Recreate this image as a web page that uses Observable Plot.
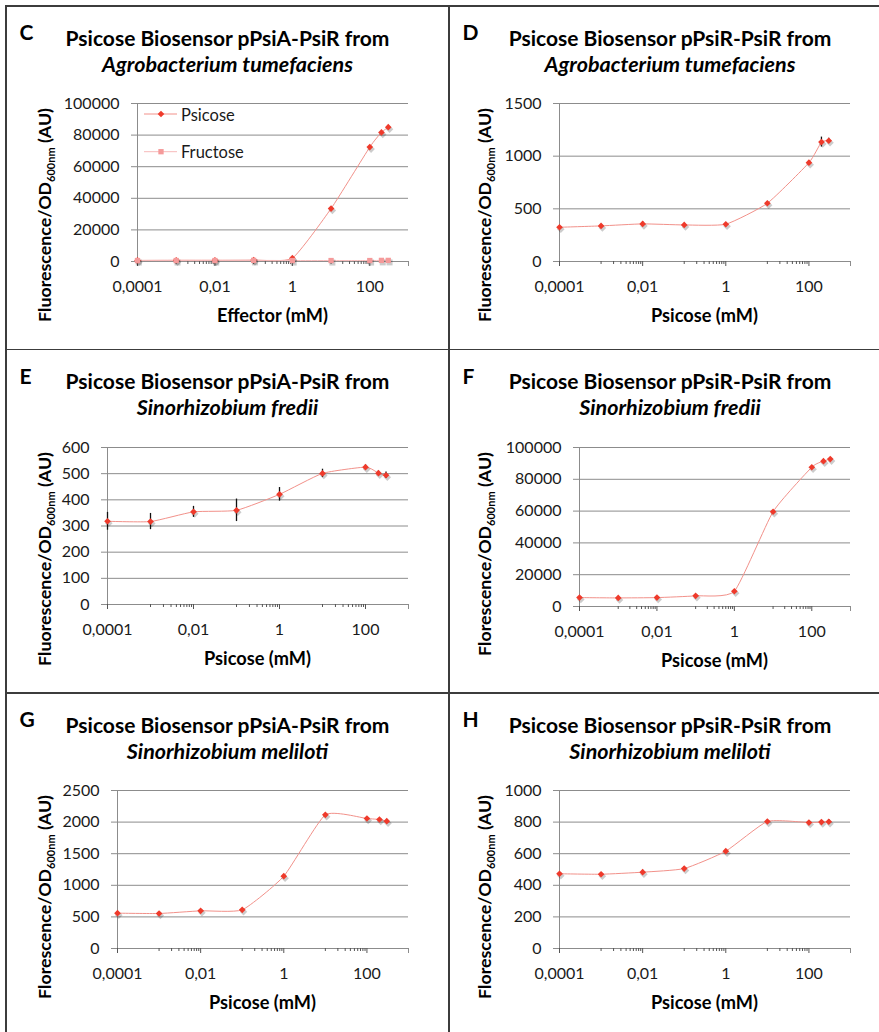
<!DOCTYPE html>
<html>
<head>
<meta charset="utf-8">
<script src="https://cdn.jsdelivr.net/npm/d3@7"></script>
<script src="https://cdn.jsdelivr.net/npm/@observablehq/plot@0.6"></script>
<style>
  html, body { margin: 0; padding: 0; background: #fff; }
  #page { position: relative; width: 879px; height: 1032px; overflow: hidden; background: #fff; font-family: Lato, "Open Sans", sans-serif; }
  .line { position: absolute; background: #3c3c3c; }
  .chart { position: absolute; }
  #overlay { position: absolute; left: 0; top: 0; pointer-events: none; }
</style>
</head>
<body>
<div id="page"></div>
<script>
// ---------------- DATA ----------------
const concentrations = [0.0001, 0.001, 0.01, 0.1, 1, 10, 100, 200, 300];
const xTickValues = [0.0001, 0.01, 1, 100];
const xTickLabels = ["0,0001", "0,01", "1", "100"];

// Panel C: pPsiA-PsiR, Agrobacterium tumefaciens
const psicoseC = [700, 800, 800, 900, 2100, 33500, 72400, 81700, 85000];
const fructoseC = [600, 600, 600, 700, 600, 600, 600, 700, 700];
const yTicksC = [0, 20000, 40000, 60000, 80000, 100000];

// Panel D: pPsiR-PsiR, Agrobacterium tumefaciens
const psicoseD = [325, 338, 357, 347, 354, 553, 938, 1134, 1146];
const errD = [10, 14, 20, 12, 14, 14, 16, 47, 25];
const yTicksD = [0, 500, 1000, 1500];

// Panel E: pPsiA-PsiR, Sinorhizobium fredii
const psicoseE = [318, 317, 354, 360, 421, 501, 525, 502, 494];
const errE = [34, 31, 21, 43, 26, 16, 8, 8, 12];
const yTicksE = [0, 100, 200, 300, 400, 500, 600];

// Panel F: pPsiR-PsiR, Sinorhizobium fredii
const psicoseF = [5600, 5400, 5600, 6700, 9600, 59600, 87600, 91400, 92700];
const yTicksF = [0, 20000, 40000, 60000, 80000, 100000];

// Panel G: pPsiA-PsiR, Sinorhizobium meliloti
const psicoseG = [559, 554, 596, 612, 1144, 2115, 2057, 2041, 2015];
const yTicksG = [0, 500, 1000, 1500, 2000, 2500];

// Panel H: pPsiR-PsiR, Sinorhizobium meliloti
const psicoseH = [473, 470, 483, 506, 616, 804, 797, 800, 802];
const errH = [8, 10, 12, 12, 10, 8, 8, 10, 14];
const yTicksH = [0, 200, 400, 600, 800, 1000];

const titleA = "Psicose Biosensor pPsiA-PsiR from";
const titleR = "Psicose Biosensor pPsiR-PsiR from";
const speciesAt = "Agrobacterium tumefaciens";
const speciesSf = "Sinorhizobium fredii";
const speciesSm = "Sinorhizobium meliloti";
const legendNames = ["Psicose", "Fructose"];

// ---------------- LAYOUT ----------------
const rowTops = [6, 349.5, 693];
const colLefts = [6, 449];
const titleCenters = [227.5, 670];
const yLabelBaselines = [51, 491];

const COL_PSI = "#ef3a2b", COL_PSI_LINE = "#f2918a";
const COL_FRU = "#f59a9a", COL_FRU_LINE = "#f7b9b9";

const rows = (vals, errs) => concentrations.map((x, i) => ({x, y: vals[i], e: errs ? errs[i] : 0}));

const panels = [
  {letter: "C", t1: titleA, t2: speciesAt, yWord: "Fluorescence", xlab: "Effector (mM)", yTicks: yTicksC, row: 0, col: 0,
   box: {L: 137, R: 408, T: 103, B: 261},
   series: [{data: rows(psicoseC), kind: "psi"}, {data: rows(fructoseC), kind: "fru"}], legend: true},
  {letter: "D", t1: titleR, t2: speciesAt, yWord: "Fluorescence", xlab: "Psicose (mM)", yTicks: yTicksD, row: 0, col: 1,
   box: {L: 559, R: 850, T: 103, B: 261},
   series: [{data: rows(psicoseD, errD), kind: "psi", err: true}]},
  {letter: "E", t1: titleA, t2: speciesSf, yWord: "Fluorescence", xlab: "Psicose (mM)", yTicks: yTicksE, row: 1, col: 0,
   box: {L: 107, R: 408, T: 447, B: 604},
   series: [{data: rows(psicoseE, errE), kind: "psi", err: true}]},
  {letter: "F", t1: titleR, t2: speciesSf, yWord: "Florescence", xlab: "Psicose (mM)", yTicks: yTicksF, row: 1, col: 1,
   box: {L: 579, R: 850, T: 447, B: 606},
   series: [{data: rows(psicoseF), kind: "psi"}]},
  {letter: "G", t1: titleA, t2: speciesSm, yWord: "Florescence", xlab: "Psicose (mM)", yTicks: yTicksG, row: 2, col: 0,
   box: {L: 117, R: 408, T: 790, B: 948},
   series: [{data: rows(psicoseG), kind: "psi"}]},
  {letter: "H", t1: titleR, t2: speciesSm, yWord: "Florescence", xlab: "Psicose (mM)", yTicks: yTicksH, row: 2, col: 1,
   box: {L: 559, R: 850, T: 790, B: 948},
   series: [{data: rows(psicoseH, errH), kind: "psi", err: true}]}
];

// minor log ticks (Excel style, base-100 axis: 10..90 x each major)
const minorTicks = [];
for (const M of xTickValues) for (let m = 1; m <= 9; m++) { const v = M * 10 * m; if (v < 1000) minorTicks.push(v); }

const page = document.getElementById("page");
const ML = 100, MR = 15, MT = 15, MB = 45;

for (const p of panels) {
  const {L, R, T, B} = p.box;
  const w = (R - L) + ML + MR, h = (B - T) + MT + MB;
  const marks = [
    Plot.gridY(p.yTicks, {stroke: "#8c8c8c", strokeOpacity: 1, strokeWidth: 1}),
    Plot.ruleX([0.0001], {stroke: "#8c8c8c", strokeWidth: 1}),
    Plot.axisY(p.yTicks, {tickSize: 6, tickPadding: 12, fontSize: 16, stroke: "#8c8c8c", fill: "#1a1a1a", tickFormat: d => String(d), label: null}),
    Plot.axisX(xTickValues, {tickSize: 5, tickPadding: 14.5, fontSize: 16, stroke: "#555", fill: "#1a1a1a", tickFormat: d => xTickLabels[xTickValues.indexOf(d)], label: null}),
    Plot.ruleX(minorTicks, {x: d => d, y1: 0, y2: 0, insetBottom: -3, stroke: "#555", strokeWidth: 1}),
    Plot.ruleX([1000], {x: d => d, y1: 0, y2: 0, insetBottom: -5, stroke: "#8c8c8c", strokeWidth: 1})
  ];
  for (const s of p.series) {
    const psi = s.kind === "psi";
    marks.push(Plot.line(s.data, {x: "x", y: "y", curve: "cardinal", tension: 0.5, stroke: psi ? COL_PSI_LINE : COL_FRU_LINE, strokeWidth: 1}));
  }
  for (const s of p.series) {
    const psi = s.kind === "psi";
    const sym = psi ? "diamond2" : "square";
    const r = 3;
    if (s.err) marks.push(Plot.ruleX(s.data, {x: "x", y1: d => d.y - d.e, y2: d => d.y + d.e, stroke: "#111", strokeWidth: 1.3}));
    marks.push(Plot.dot(s.data, {x: "x", y: "y", symbol: sym, r: r + 0.4, fill: "#000", fillOpacity: 0.2, stroke: "none", dx: 1.3, dy: 2}));
    marks.push(Plot.dot(s.data, {x: "x", y: "y", symbol: sym, r, fill: psi ? COL_PSI : COL_FRU, stroke: "none"}));
  }
  const chart = Plot.plot({
    width: w, height: h,
    marginLeft: ML, marginRight: MR, marginTop: MT, marginBottom: MB,
    style: {background: "transparent", fontFamily: "Lato, 'Open Sans', sans-serif", overflow: "visible"},
    x: {type: "log", domain: [0.0001, 1000]},
    y: {domain: [0, p.yTicks[p.yTicks.length - 1]]},
    marks
  });
  chart.classList.add("chart");
  chart.style.left = (L - ML) + "px";
  chart.style.top = (T - MT) + "px";
  page.appendChild(chart);
}

// ---------------- BORDERS ----------------
function hline(y, x1, x2) { const d = document.createElement("div"); d.className = "line"; Object.assign(d.style, {left: x1 + "px", top: (y - 0.75) + "px", width: (x2 - x1) + "px", height: "1.5px"}); page.appendChild(d); }
function vline(x, y1, y2) { const d = document.createElement("div"); d.className = "line"; Object.assign(d.style, {left: (x - 0.75) + "px", top: y1 + "px", width: "1.5px", height: (y2 - y1) + "px"}); page.appendChild(d); }
hline(6, 5.25, 879); hline(349.5, 6, 879); hline(693, 6, 879);
vline(6, 5.25, 1032); vline(449, 6, 1032);

// ---------------- TEXT OVERLAY ----------------
const NS = "http://www.w3.org/2000/svg";
const ov = document.createElementNS(NS, "svg");
ov.setAttribute("id", "overlay"); ov.setAttribute("width", 879); ov.setAttribute("height", 1032);
ov.style.fontFamily = "Lato, 'Open Sans', sans-serif";
page.appendChild(ov);
function txt(x, y, s, attrs = {}) {
  const t = document.createElementNS(NS, "text");
  t.setAttribute("x", x); t.setAttribute("y", y); t.textContent = s;
  for (const k in attrs) t.setAttribute(k, attrs[k]);
  ov.appendChild(t); return t;
}

for (const p of panels) {
  const top = rowTops[p.row], left = colLefts[p.col];
  const {L, R, T, B} = p.box;
  txt(left + 13.5, top + 34, p.letter, {"font-size": 21, "font-weight": "bold", fill: "#000"});
  txt(titleCenters[p.col], top + 39.7, p.t1, {"font-size": 21, "font-weight": "bold", "text-anchor": "middle", fill: "#000"});
  txt(titleCenters[p.col], top + 65.7, p.t2, {"font-size": 21.5, "font-weight": "bold", "font-style": "italic", "text-anchor": "middle", fill: "#000"});
  txt((L + R) / 2, B + 60.7, p.xlab, {"font-size": 18.2, "font-weight": "bold", "text-anchor": "middle", fill: "#000"});
  // y label with subscript
  const bx = yLabelBaselines[p.col], ey = T + 5;
  const t = document.createElementNS(NS, "text");
  t.setAttribute("transform", `translate(${bx},${ey}) rotate(-90)`);
  t.setAttribute("text-anchor", "end"); t.setAttribute("font-size", 17.8); t.setAttribute("font-weight", "bold"); t.setAttribute("fill", "#000");
  const a = document.createElementNS(NS, "tspan"); a.textContent = p.yWord + "/OD"; t.appendChild(a);
  const b = document.createElementNS(NS, "tspan"); b.textContent = "600nm"; b.setAttribute("font-size", 11); b.setAttribute("dy", 4); t.appendChild(b);
  const c = document.createElementNS(NS, "tspan"); c.textContent = " (AU)"; c.setAttribute("dy", -4); t.appendChild(c);
  ov.appendChild(t);

  if (p.legend) {
    const ys = [114, 151.7];
    legendNames.forEach((name, i) => {
      const l = document.createElementNS(NS, "line");
      l.setAttribute("x1", 144); l.setAttribute("x2", 177); l.setAttribute("y1", ys[i]); l.setAttribute("y2", ys[i]);
      l.setAttribute("stroke", i === 0 ? COL_PSI_LINE : COL_FRU_LINE); l.setAttribute("stroke-width", 1);
      ov.appendChild(l);
      const m = document.createElementNS(NS, "path");
      const sym = i === 0 ? d3.symbolDiamond2 : d3.symbolSquare;
      m.setAttribute("d", d3.symbol(sym, Math.PI * 3 * 3)());
      m.setAttribute("transform", `translate(161,${ys[i]})`);
      m.setAttribute("fill", i === 0 ? COL_PSI : COL_FRU);
      ov.appendChild(m);
      txt(181, ys[i] + 6.5, name, {"font-size": 16.5, fill: "#1a1a1a"});
    });
  }
}
</script>
</body>
</html>
